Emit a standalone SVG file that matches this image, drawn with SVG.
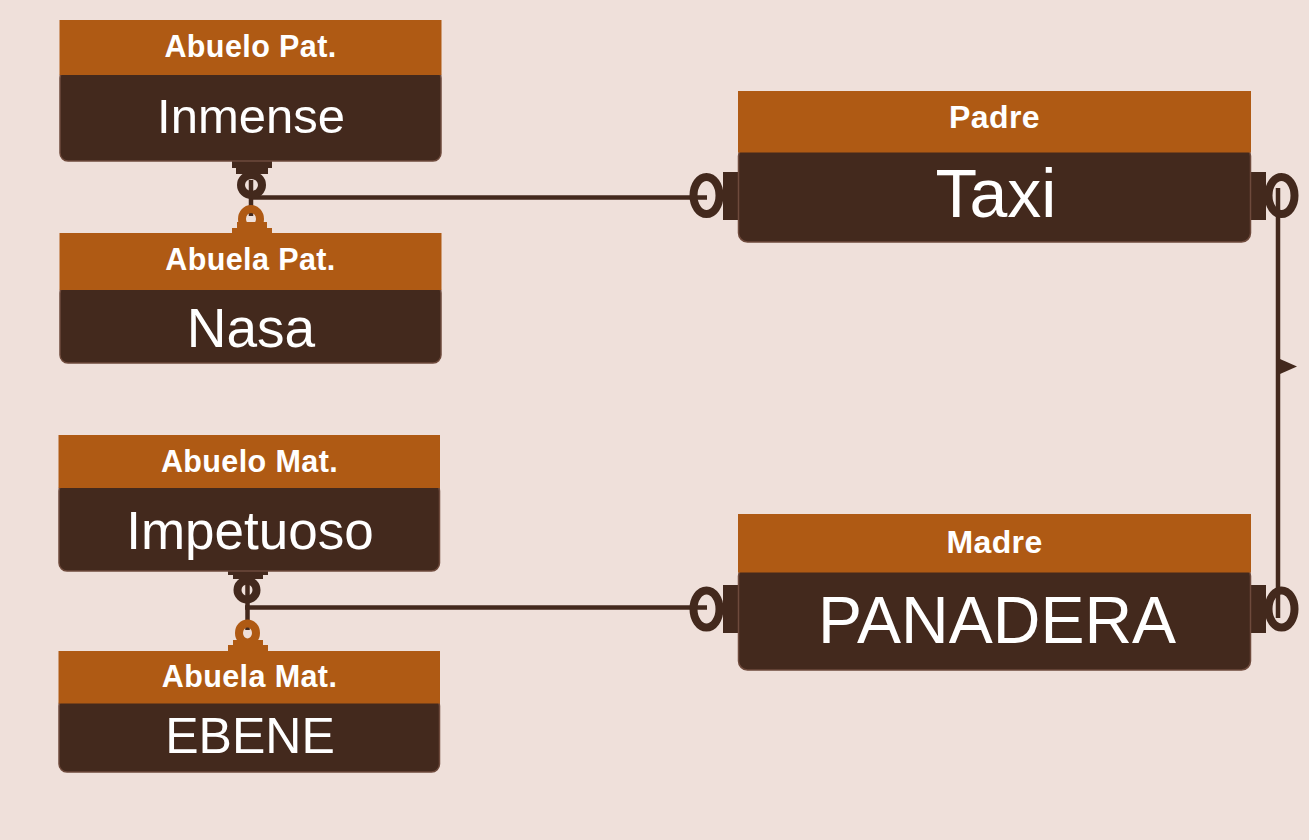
<svg xmlns="http://www.w3.org/2000/svg" width="1309" height="840" viewBox="0 0 1309 840">
<style>
.hdr{fill:#AF5A14}
.body{fill:#43291D;stroke:#6E4A3C;stroke-width:1.5}
.ttl{font-family:"Liberation Sans",Arial,sans-serif;font-weight:bold;fill:#FFFFFF;text-anchor:middle;letter-spacing:0.4px}
.val{font-family:"Liberation Sans",Arial,sans-serif;fill:#FFFFFF;text-anchor:middle}
.ln{fill:none;stroke:#43291D;stroke-width:4.5}
.ringd{fill:none;stroke:#43291D;stroke-width:8}
.ringo{fill:none;stroke:#AF5A14;stroke-width:8}
.tabd{fill:#43291D}
.tabo{fill:#AF5A14}
</style>
<rect x="0" y="0" width="1309" height="840" fill="#EFE0DA"/>

<g id="connectors">
  <!-- Paternal link -->
  <line class="ln" x1="251" y1="180" x2="251" y2="216"/>
  <line class="ln" x1="249" y1="197.5" x2="707" y2="197.5"/>
  <ellipse class="ringd" cx="251.5" cy="185" rx="10.5" ry="10"/>
  <rect class="tabd" x="232" y="160" width="40" height="8"/>
  <rect class="tabd" x="236" y="167" width="32" height="7"/>
  <ellipse class="ringo" cx="251" cy="219" rx="9" ry="10"/>
  <rect class="tabo" x="237" y="222" width="30" height="7"/>
  <rect class="tabo" x="232" y="228" width="40" height="6"/>
  <ellipse class="ringd" cx="706.5" cy="195.5" rx="13" ry="18.5"/>
  <rect class="tabd" x="723" y="172" width="16" height="48"/>

  <!-- Maternal link -->
  <line class="ln" x1="247.5" y1="583" x2="247.5" y2="630"/>
  <line class="ln" x1="245" y1="607.5" x2="707" y2="607.5"/>
  <ellipse class="ringd" cx="247" cy="590" rx="9.5" ry="9.5"/>
  <rect class="tabd" x="228" y="570" width="40" height="5"/>
  <rect class="tabd" x="233" y="574" width="30" height="5"/>
  <ellipse class="ringo" cx="247.5" cy="633" rx="8.5" ry="9.5"/>
  <rect class="tabo" x="233" y="640" width="30" height="6"/>
  <rect class="tabo" x="228" y="645" width="40" height="7"/>
  <ellipse class="ringd" cx="706.5" cy="609" rx="13" ry="18.5"/>
  <rect class="tabd" x="723" y="585" width="16" height="48"/>

  <!-- Padre to Madre -->
  <line class="ln" x1="1278" y1="188" x2="1278" y2="618"/>
  <polygon fill="#43291D" points="1280,359 1297,366.5 1280,374"/>
  <ellipse class="ringd" cx="1281.5" cy="195.5" rx="13" ry="18.5"/>
  <rect class="tabd" x="1250" y="172" width="16" height="48"/>
  <ellipse class="ringd" cx="1281.5" cy="609" rx="13" ry="18.5"/>
  <rect class="tabd" x="1250" y="585" width="16" height="48"/>
</g>

<g id="abuelo-pat">
  <rect class="body" x="60" y="70" width="381" height="91" rx="8"/>
  <rect class="hdr" x="59.5" y="20" width="382" height="55"/>
  <text class="ttl" x="250.5" y="56.7" font-size="30.5">Abuelo Pat.</text>
  <text class="val" x="251" y="133.3" font-size="49">Inmense</text>
</g>

<g id="abuela-pat">
  <rect class="body" x="60" y="285" width="381" height="78" rx="8"/>
  <rect class="hdr" x="59.5" y="233" width="382" height="57"/>
  <text class="ttl" x="250.5" y="270" font-size="30.5">Abuela Pat.</text>
  <text class="val" x="251" y="346.7" font-size="55">Nasa</text>
</g>

<g id="abuelo-mat">
  <rect class="body" x="59" y="483" width="380.5" height="88" rx="8"/>
  <rect class="hdr" x="58.5" y="435" width="381.5" height="53"/>
  <text class="ttl" x="249.5" y="472" font-size="30.5">Abuelo Mat.</text>
  <text class="val" x="250" y="549" font-size="53">Impetuoso</text>
</g>

<g id="abuela-mat">
  <rect class="body" x="59" y="698" width="380.5" height="74" rx="8"/>
  <rect class="hdr" x="58.5" y="651" width="381.5" height="52.5"/>
  <text class="ttl" x="249.5" y="686.7" font-size="30.5">Abuela Mat.</text>
  <text class="val" x="250" y="753.3" font-size="50">EBENE</text>
</g>

<g id="padre">
  <rect class="body" x="738.5" y="147" width="512" height="95" rx="9"/>
  <rect class="hdr" x="738" y="91" width="513" height="61.5"/>
  <text class="ttl" x="994.5" y="128.3" font-size="32">Padre</text>
  <text class="val" x="996" y="216.7" font-size="68">Taxi</text>
</g>

<g id="madre">
  <rect class="body" x="738.5" y="567" width="512" height="103" rx="9"/>
  <rect class="hdr" x="738" y="514" width="513" height="58.5"/>
  <text class="ttl" x="994.5" y="553.3" font-size="32">Madre</text>
  <text class="val" x="997" y="642.7" font-size="66">PANADERA</text>
</g>
</svg>
